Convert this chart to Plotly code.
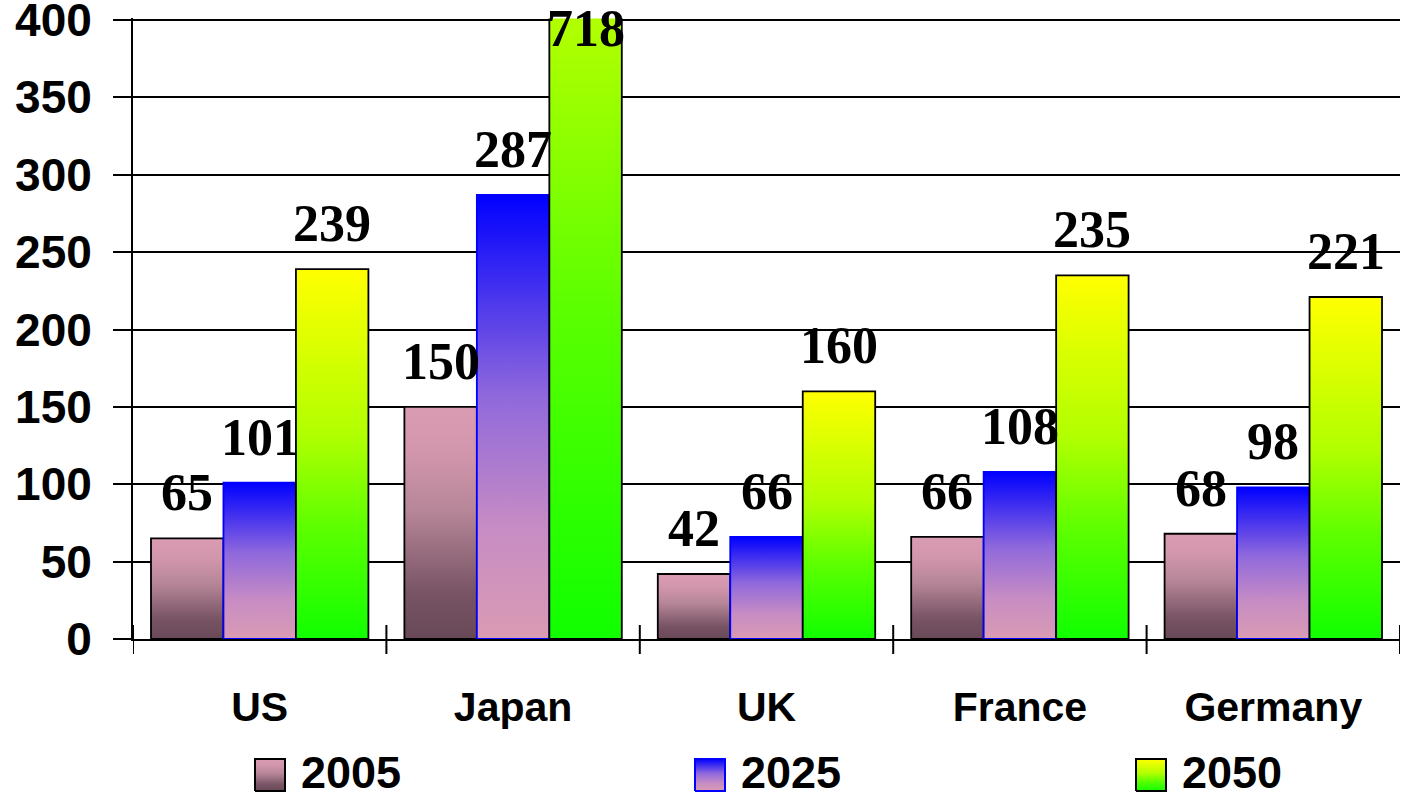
import plotly.graph_objects as go

# ---- data -------------------------------------------------------------
countries = ["US", "Japan", "UK", "France", "Germany"]
years = ["2005", "2025", "2050"]
values_2005 = [65, 150, 42, 66, 68]
values_2025 = [101, 287, 66, 108, 98]
values_2050 = [239, 718, 160, 235, 221]
y_ticks = [0, 50, 100, 150, 200, 250, 300, 350, 400]

# ---- styling ----------------------------------------------------------
W, H = 1403, 798
Y_MAX = 400
Y_TOP = 401          # a hair above the last gridline so it is still drawn
BAR_W = 0.286
series = [
    dict(name="2005", values=values_2005, outline="#000000",
         scale=[[0, "#684857"], [0.2, "#785464"], [0.55, "#b68698"],
                [0.8, "#d296ac"], [1, "#da9cb3"]]),
    dict(name="2025", values=values_2025, outline="#0000ff",
         scale=[[0, "#da9bb3"], [0.25, "#c78cc4"], [0.55, "#8f68dc"],
                [1, "#0000ff"]]),
    dict(name="2050", values=values_2050, outline="#000000",
         scale=[[0, "#10ff00"], [0.3, "#5cff00"], [0.55, "#b0ff00"],
                [1, "#ffff00"]]),
]
SANS = "Arial, Liberation Sans, sans-serif"
SERIF = "Times New Roman, Liberation Serif, serif"

fig = go.Figure()

# ---- gradient bars (filled rectangles in data space) -------------------
n = len(series)
for j, s in enumerate(series):
    for i, v in enumerate(s["values"]):
        x0 = i + (j - n / 2) * BAR_W
        x1 = x0 + BAR_W
        fig.add_trace(go.Scatter(
            x=[x0, x0, x1, x1, x0], y=[0, v, v, 0, 0],
            mode="lines", fill="toself",
            fillgradient=dict(type="vertical", colorscale=s["scale"],
                              start=0, stop=v),
            line=dict(color=s["outline"], width=1.8),
            name=s["name"], showlegend=False,
            hovertemplate=f"{countries[i]} {s['name']}: {v}<extra></extra>",
            xaxis="x", yaxis="y",
        ))
        # value label above each bar (inside the top edge when clipped)
        clipped = v > Y_MAX
        fig.add_annotation(
            x=i + (j - (n - 1) / 2) * BAR_W, y=min(v, Y_MAX),
            xref="x", yref="y", text=str(v), showarrow=False,
            yanchor="top" if clipped else "bottom",
            yshift=22 if clipped else 15,
            font=dict(family=SERIF, size=52, color="black", weight="bold"),
        )

# ---- axes geometry -----------------------------------------------------
px_per_unit = (639 - 20) / Y_MAX
top_px = 639 - Y_TOP * px_per_unit
x_dom = [133 / W, 1400 / W]
y_dom = [(H - 639) / H, (H - top_px) / H]
x_range = [-0.5, len(countries) - 0.5]

# category boundaries get ticks that cross the baseline
bounds = [k - 0.5 for k in range(len(countries) + 1)]
centers = list(range(len(countries)))
for b in bounds:
    fig.add_shape(type="line", xref="x", yref="paper", x0=b, x1=b,
                  ysizemode="pixel", yanchor=y_dom[0], y0=-15, y1=14,
                  line=dict(color="black", width=2))

# invisible anchor so the overlaid label axis gets drawn
fig.add_trace(go.Scatter(
    x=centers, y=[0] * len(centers), mode="markers",
    marker=dict(opacity=0), showlegend=False, hoverinfo="skip",
    xaxis="x3", yaxis="y",
))

# ---- custom legend with gradient swatches ------------------------------
legend_left = [255, 695, 1136]
SW_W, SW_B, SW_T = 30, 7, 39
for s, lx in zip(series, legend_left):
    fig.add_trace(go.Scatter(
        x=[lx, lx, lx + SW_W, lx + SW_W, lx],
        y=[SW_B, SW_T, SW_T, SW_B, SW_B],
        mode="lines", fill="toself",
        fillgradient=dict(type="vertical", colorscale=s["scale"],
                          start=SW_B, stop=SW_T),
        line=dict(color=s["outline"], width=2),
        showlegend=False, hoverinfo="skip", xaxis="x5", yaxis="y5",
    ))
    fig.add_annotation(
        x=lx + SW_W + 14, y=26, xref="x5", yref="y5", text=s["name"],
        showarrow=False, xanchor="left", yanchor="middle",
        font=dict(family=SANS, size=45, color="black", weight="bold"),
    )

fig.update_layout(
    width=W, height=H,
    margin=dict(l=0, r=0, t=0, b=0),
    paper_bgcolor="white", plot_bgcolor="rgba(0,0,0,0)",
    showlegend=False,
    xaxis=dict(domain=x_dom, range=x_range, tickvals=bounds,
               showticklabels=False, ticks="", showgrid=False,
               zeroline=False, showline=True, linecolor="black",
               linewidth=2, automargin=False, fixedrange=True),
    xaxis3=dict(overlaying="x", anchor="y", side="bottom",
                domain=x_dom, range=x_range,
                tickvals=centers, ticktext=countries,
                ticks="", ticklabelstandoff=40, showgrid=False,
                zeroline=False, showline=False, automargin=False,
                fixedrange=True,
                tickfont=dict(family=SANS, size=41, color="black",
                              weight="bold")),
    yaxis=dict(domain=y_dom, range=[0, Y_TOP], tickvals=y_ticks,
               ticks="outside", ticklen=18, tickwidth=2, tickcolor="black",
               ticklabelstandoff=12, ticklabeloverflow="allow",
               showgrid=True, gridcolor="black", gridwidth=1.8,
               zeroline=False, showline=True, linecolor="black",
               linewidth=2, automargin=False, fixedrange=True,
               tickfont=dict(family=SANS, size=46, color="black",
                             weight="bold")),
    xaxis5=dict(domain=[0, 1], range=[0, W], visible=False,
                anchor="y5", fixedrange=True),
    yaxis5=dict(domain=[0, 1], range=[0, H], visible=False,
                anchor="x5", fixedrange=True),
)

fig.write_html("out.html")
